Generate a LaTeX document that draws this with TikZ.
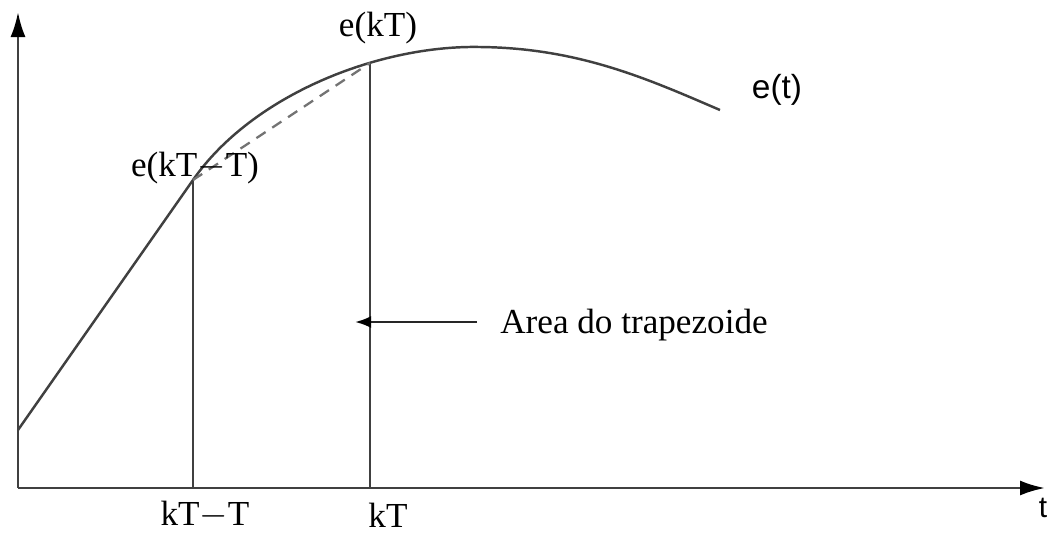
\documentclass[tikz,border=0pt]{standalone}
\usepackage{fontspec}
\setmainfont{Liberation Serif}
\newfontfamily\labelsans{Liberation Sans}
\usetikzlibrary{arrows.meta, positioning}
\tikzstyle{axis} = [line width=1.5pt, draw=black!75, -{Latex[length=0.5cm,width=0.3cm,color=black]}]
\tikzstyle{curve} = [line width=1.4pt, draw=black!75]
\tikzstyle{sample} = [line width=1.5pt, draw=black!75]
\tikzstyle{chord} = [line width=1.3pt, draw=black!55, dashed, dash pattern=on 0.22cm off 0.16cm]
\tikzstyle{pointer} = [line width=1.4pt, draw=black!85, -{Latex[length=0.32cm,width=0.24cm,color=black]}]
\tikzstyle{lbl} = [inner sep=0pt, font=\fontsize{20}{24}\selectfont]

\begin{document}
\begin{tikzpicture}[x=0.02cm, y=-0.02cm]
  \useasboundingbox (0,0) rectangle (1051,535);

  % Axes
  \coordinate (origin) at (18,488);
  \coordinate (ytip) at (18,12);
  \coordinate (xtip) at (1045,488);
  \draw[axis] (origin) -- (ytip);
  \draw[axis] (origin) -- (xtip);
  \node[lbl, font=\labelsans\fontsize{17}{20}\selectfont] (tlabel) at (1043,508) {t};

  % Signal e(t)
  \coordinate (prev) at (193,180);
  \coordinate (curr) at (370,63);
  \draw[curve] (18,430) -- (prev) .. controls (253,94) and (380,45) .. (480,47)
    .. controls (580,48) and (650,80) .. (720,110);
  \node[lbl, font=\labelsans\fontsize{19}{22}\selectfont] (etlabel) at (777,90) {e(t)};

  % Samples
  \coordinate (prevbase) at (193,488);
  \coordinate (currbase) at (370,488);
  \draw[sample] (prevbase) -- (prev);
  \draw[sample] (currbase) -- (curr);
  \draw[chord] (prev) -- (curr);

  \node[lbl] (eprev) at (195,168) {e(kT$-$T)};
  \node[lbl] (ecurr) at (378,28) {e(kT)};
  \node[lbl] (tprev) at (205,515) {kT$-$T};
  \node[lbl] (tcurr) at (388,515) {kT};

  % Trapezoid area
  \node[lbl, anchor=west] (area) at (500,325) {Area do trapezoide};
  \coordinate (areatip) at (355,322);
  \draw[pointer] ([xshift=-13pt]area.west |- areatip) -- (areatip);
\end{tikzpicture}
\end{document}
